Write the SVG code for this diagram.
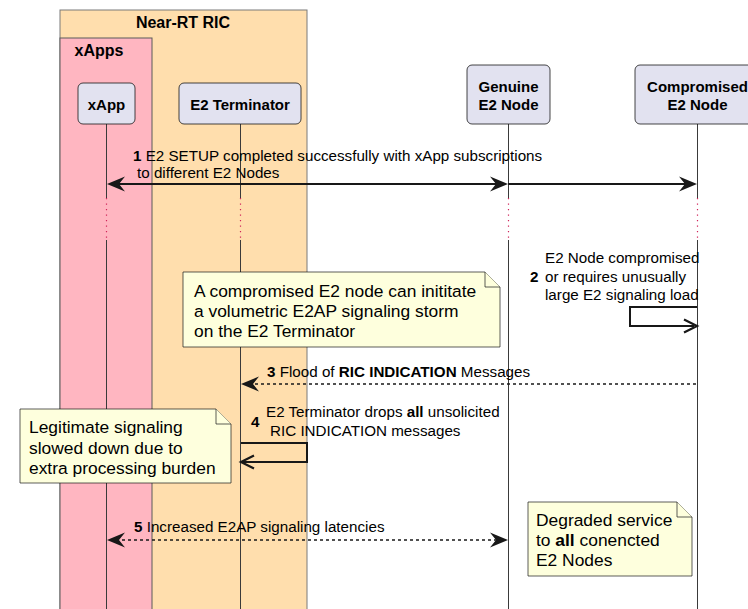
<svg xmlns="http://www.w3.org/2000/svg" width="748" height="609" viewBox="0 0 748 609">
  <style>
    text { font-family: "Liberation Sans", Arial, sans-serif; fill: #000; }
    .grp-title { font-size: 16px; font-weight: bold; text-anchor: middle; }
    .part { fill: #E2E2F0; stroke: #181818; stroke-width: 0.8; }
    .part-label { font-size: 15px; font-weight: bold; text-anchor: middle; }
    .life { stroke: #3a3a3a; stroke-width: 1; fill: none; }
    .delay { stroke: #D0245A; stroke-width: 1.2; stroke-dasharray: 1.2 4.3; fill: none; }
    .msg { font-size: 15.2px; }
    .num { font-weight: bold; }
    .solid { stroke: #181818; stroke-width: 2; fill: none; }
    .dashed { stroke: #181818; stroke-width: 1.3; stroke-dasharray: 3 3; fill: none; }
    .head { fill: #181818; stroke: none; }
    .open { stroke: #181818; stroke-width: 2.2; fill: none; }
    .note { fill: #FEFFDD; stroke: #181818; stroke-width: 0.7; }
    .note-text { font-size: 17.4px; }
  </style>

  <!-- group boxes -->
  <g id="near-rt-ric">
    <rect x="60" y="10" width="247" height="610" fill="#FFDEAD" stroke="#7a7a7a" stroke-width="1"/>
    <text class="grp-title" x="183" y="28">Near-RT RIC</text>
  </g>
  <g id="xapps">
    <rect x="60" y="38" width="92" height="580" fill="#FFB6C1" stroke="#5a5a5a" stroke-width="1"/>
    <text class="grp-title" x="99" y="56">xApps</text>
  </g>

  <!-- lifelines -->
  <g id="lifelines">
    <path class="life" d="M106.5,124 V198 M106.5,240 V609"/>
    <path class="life" d="M240.5,124 V198 M240.5,240 V609"/>
    <path class="life" d="M508.5,124 V198 M508.5,240 V609"/>
    <path class="life" d="M697.5,124 V198 M697.5,240 V609" stroke="#8a8a8a"/>
    <path class="delay" d="M106.5,198 V241 M240.5,198 V241 M508.5,198 V241 M697.5,198 V241"/>
  </g>

  <!-- participants -->
  <g id="xapp">
    <rect class="part" x="78" y="83" width="57" height="41" rx="5"/>
    <text class="part-label" x="106.5" y="110">xApp</text>
  </g>
  <g id="e2-terminator">
    <rect class="part" x="179" y="83" width="122" height="41" rx="5"/>
    <text class="part-label" x="240" y="110">E2 Terminator</text>
  </g>
  <g id="genuine-e2-node">
    <rect class="part" x="467" y="65" width="83" height="59" rx="5"/>
    <text class="part-label" x="508.5" y="92">Genuine</text>
    <text class="part-label" x="508.5" y="110">E2 Node</text>
  </g>
  <g id="compromised-e2-node">
    <rect class="part" x="635" y="65" width="125" height="59" rx="5"/>
    <text class="part-label" x="697.5" y="92">Compromised</text>
    <text class="part-label" x="697.5" y="110">E2 Node</text>
  </g>

  <!-- messages -->
  <g id="connectors">
    <!-- 1: E2 setup -->
    <path class="solid" d="M114,184 H500 M508,184 H689"/>
    <polygon class="head" points="107,184 125,176.5 119,184 125,191.5"/>
    <polygon class="head" points="508,184 490,176.5 496,184 490,191.5"/>
    <polygon class="head" points="697,184 679,176.5 685,184 679,191.5"/>

    <!-- 2: self message on compromised node -->
    <path class="solid" d="M697,307 H630 V326 H694"/>
    <path class="open" d="M684,319.5 L697,326 L684,332.5"/>

    <!-- 3: flood of indications -->
    <path class="dashed" d="M696,384 H250"/>
    <polygon class="head" points="241,384 259,376.5 253,384 259,391.5"/>

    <!-- 4: self message on E2 terminator -->
    <path class="solid" d="M241,443 H307 V462 H243"/>
    <path class="open" d="M254,455.5 L241,462 L254,468.5"/>

    <!-- 5: latencies -->
    <path class="dashed" d="M116,540 H498"/>
    <polygon class="head" points="107,540 125,532.5 119,540 125,547.5"/>
    <polygon class="head" points="508,540 490,532.5 496,540 490,547.5"/>
  </g>

  <!-- message labels -->
  <g id="labels">
    <text class="msg" x="133" y="161"><tspan class="num">1</tspan> E2 SETUP completed successfully with xApp subscriptions</text>
    <text class="msg" x="137" y="178">to different E2 Nodes</text>

    <text class="msg" x="545" y="263">E2 Node compromised</text>
    <text class="msg num" x="530" y="282">2</text>
    <text class="msg" x="545" y="282">or requires unusually</text>
    <text class="msg" x="545" y="300">large E2 signaling load</text>

    <text class="msg" x="267" y="377"><tspan class="num">3</tspan> Flood of <tspan class="num">RIC INDICATION</tspan> Messages</text>

    <text class="msg" x="266" y="417">E2 Terminator drops <tspan class="num">all</tspan> unsolicited</text>
    <text class="msg num" x="251" y="427">4</text>
    <text class="msg" x="270" y="436">RIC INDICATION messages</text>

    <text class="msg" x="134" y="532"><tspan class="num">5</tspan> Increased E2AP signaling latencies</text>
  </g>

  <!-- notes -->
  <g id="note-storm">
    <path class="note" d="M183,272 H485 L500,287 V347 H183 Z"/>
    <path class="note" d="M485,272 V287 H500" fill="none"/>
    <text class="note-text" x="194" y="297">A compromised E2 node can inititate</text>
    <text class="note-text" x="194" y="317">a volumetric E2AP signaling storm</text>
    <text class="note-text" x="194" y="337">on the E2 Terminator</text>
  </g>
  <g id="note-legitimate">
    <path class="note" d="M20,409 H216 L231,424 V483 H20 Z"/>
    <path class="note" d="M216,409 V424 H231" fill="none"/>
    <text class="note-text" x="29" y="433">Legitimate signaling</text>
    <text class="note-text" x="29" y="454">slowed down due to</text>
    <text class="note-text" x="29" y="474">extra processing burden</text>
  </g>
  <g id="note-degraded">
    <path class="note" d="M528,502 H677 L692,517 V576 H528 Z"/>
    <path class="note" d="M677,502 V517 H692" fill="none"/>
    <text class="note-text" x="536" y="526">Degraded service</text>
    <text class="note-text" x="536" y="546">to <tspan font-weight="bold">all</tspan> conencted</text>
    <text class="note-text" x="536" y="566">E2 Nodes</text>
  </g>
</svg>
